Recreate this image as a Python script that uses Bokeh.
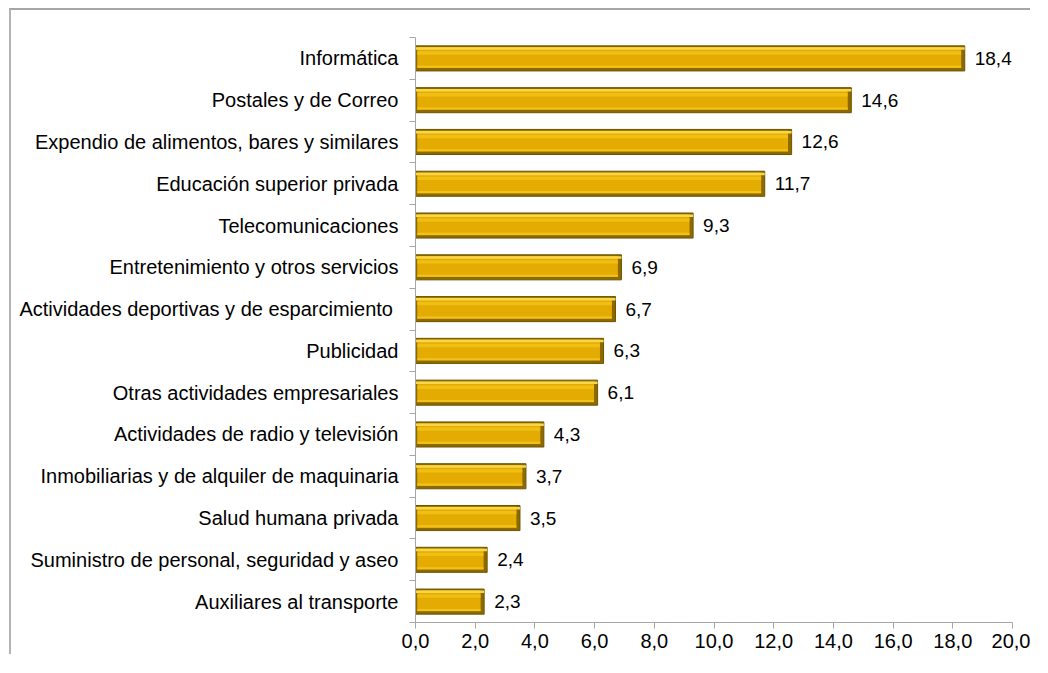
from bokeh.plotting import figure
from bokeh.models import (FixedTicker, CustomJSTickFormatter, ColumnDataSource, Range1d,
                          InlineStyleSheet, LabelSet)
from bokeh.transform import dodge
from bokeh.core.properties import value
from bokeh.embed import file_html
from bokeh.resources import INLINE

categories = [
    "Informática",
    "Postales y de Correo",
    "Expendio de alimentos, bares y similares",
    "Educación superior privada",
    "Telecomunicaciones",
    "Entretenimiento y otros servicios",
    "Actividades deportivas y de esparcimiento ",
    "Publicidad",
    "Otras actividades empresariales",
    "Actividades de radio y televisión",
    "Inmobiliarias y de alquiler de maquinaria",
    "Salud humana privada",
    "Suministro de personal, seguridad y aseo",
    "Auxiliares al transporte",
]
values = [18.4, 14.6, 12.6, 11.7, 9.3, 6.9, 6.7, 6.3, 6.1, 4.3, 3.7, 3.5, 2.4, 2.3]
x_ticks = [0, 2, 4, 6, 8, 10, 12, 14, 16, 18, 20]

n = len(categories)
ypos = [n - 0.5 - i for i in range(n)]
labels = [f"{v:.1f}".replace(".", ",") for v in values]
src = ColumnDataSource(dict(y=ypos, v=values, lab=labels, zero=[0] * n))

FONT = "Liberation Sans"

p = figure(width=1021, height=646, output_backend="svg", toolbar_location=None,
           x_range=Range1d(0, 20), y_range=Range1d(0, n),
           min_border_left=404, min_border_right=20, min_border_top=27,
           min_border_bottom=34)
p.margin = (8, 0, 0, 9)
p.stylesheets = [InlineStyleSheet(css=":host { border-top: 2px solid #a6a6a6; border-left: 2px solid #b4b4b4; }")]
p.outline_line_color = None
p.grid.grid_line_color = None
p.background_fill_color = "white"
p.border_fill_color = "white"

# bars: dark frame, body, highlights
p.hbar(y="y", left="zero", right="v", height=0.6, source=src,
       fill_color="#8c6a00", line_color="#6e5400", line_width=1)
p.hbar(y=dodge("y", 0.02, range=p.y_range), left=dodge("zero", 0.06, range=p.x_range),
       right=dodge("v", -0.12, range=p.x_range), height=0.5, source=src,
       fill_color="#E4AC02", line_color=None)
p.hbar(y=dodge("y", 0.235, range=p.y_range), left="zero", right="v", height=0.06, source=src,
       fill_color="#F7D64A", line_color=None)
p.hbar(y=dodge("y", 0.13, range=p.y_range), left=dodge("zero", 0.06, range=p.x_range),
       right=dodge("v", -0.12, range=p.x_range), height=0.08, source=src,
       fill_color="#F3C419", line_color=None, fill_alpha=0.8)
p.hbar(y=dodge("y", -0.2, range=p.y_range), left=dodge("zero", 0.06, range=p.x_range),
       right=dodge("v", -0.12, range=p.x_range), height=0.05, source=src,
       fill_color="#F2C21C", line_color=None)

p.add_layout(LabelSet(x="v", y="y", text="lab", source=src, x_offset=10,
                      text_baseline="middle", text_align="left", text_font=value(FONT),
                      text_font_size="19px", text_color="black"))

# axes
xa = p.xaxis[0]
xa.ticker = FixedTicker(ticks=x_ticks)
xa.formatter = CustomJSTickFormatter(code="return tick.toFixed(1).replace('.', ',');")
xa.axis_line_color = "#a6a6a6"
xa.major_tick_line_color = "#a6a6a6"
xa.major_tick_out = 6
xa.major_tick_in = 0
xa.minor_tick_line_color = None
xa.major_label_text_font = FONT
xa.major_label_text_font_size = "20px"
xa.major_label_text_color = "black"
xa.major_label_standoff = 5

ya = p.yaxis[0]
ya.ticker = FixedTicker(ticks=ypos, minor_ticks=list(range(n + 1)))
ya.major_label_overrides = {y: c for y, c in zip(ypos, categories)}
ya.axis_line_color = "#a6a6a6"
ya.major_tick_line_color = None
ya.major_tick_out = 0
ya.major_tick_in = 0
ya.minor_tick_line_color = "#a6a6a6"
ya.minor_tick_out = 6
ya.minor_tick_in = 0
ya.major_label_text_font = FONT
ya.major_label_text_font_size = "20px"
ya.major_label_text_color = "black"
ya.major_label_standoff = 11

open("out.html", "w").write(file_html(p, INLINE))
